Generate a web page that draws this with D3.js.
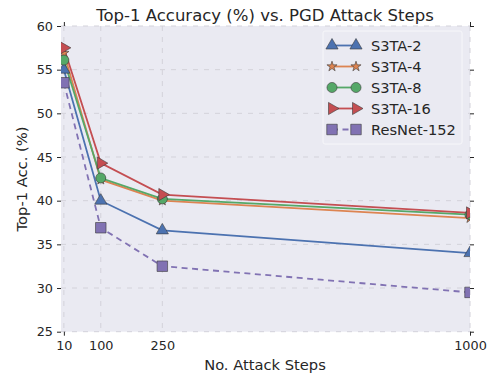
<!DOCTYPE html>
<html><head><meta charset="utf-8">
<script src="https://cdn.jsdelivr.net/npm/d3@7"></script>
<style>body{margin:0;background:#fff}svg{display:block;font-family:"DejaVu Sans",sans-serif}</style>
</head><body>
<svg id="c" width="487" height="373"></svg>
<script>
const steps = [10, 100, 250, 1000];
const xTicks = [10, 100, 250, 1000];
const yTicks = [25, 30, 35, 40, 45, 50, 55, 60];
const seriesNames = ["S3TA-2", "S3TA-4", "S3TA-8", "S3TA-16", "ResNet-152"];
const s3ta2 = [55.0, 40.0, 36.6, 34.0];
const s3ta4 = [56.9, 42.4, 40.0, 38.0];
const s3ta8 = [56.1, 42.6, 40.2, 38.4];
const s3ta16 = [57.5, 44.3, 40.7, 38.6];
const resnet152 = [53.5, 36.9, 32.5, 29.5];
const seriesValues = [s3ta2, s3ta4, s3ta8, s3ta16, resnet152];
const colors = ["#4C72B0", "#DD8452", "#55A868", "#C44E52", "#8172B3"];
const markers = ["tri", "star", "circle", "right", "square"];
const dashed = [false, false, false, false, true];

const svg = d3.select("#c");
const L = 61, R = 470, T = 26, B = 331.7;
const x = d3.scaleLinear().domain([3, 1000]).range([L, R]);
const y = d3.scaleLinear().domain([25, 60]).range([B, T]);

svg.append("rect").attr("x", L).attr("y", T).attr("width", R - L).attr("height", B - T).attr("fill", "#EAEAF2");
svg.append("defs").append("clipPath").attr("id", "clip").append("rect")
  .attr("x", L).attr("y", T).attr("width", R - L).attr("height", B - T);

const grid = svg.append("g").attr("stroke", "#d3d2da").attr("stroke-width", 1).attr("stroke-dasharray", "5,6");
yTicks.forEach(v => grid.append("line").attr("x1", L).attr("x2", R).attr("y1", y(v)).attr("y2", y(v)));
xTicks.forEach(v => grid.append("line").attr("y1", T).attr("y2", B).attr("x1", x(v)).attr("x2", x(v)));

const yAxisL = svg.append("g").attr("transform", `translate(${L},0)`)
  .call(d3.axisLeft(y).tickValues(yTicks).tickSize(4).tickPadding(4));
const yAxisR = svg.append("g").attr("transform", `translate(${R},0)`)
  .call(d3.axisRight(y).tickValues(yTicks).tickSize(4).tickFormat(""));
const xAxisB = svg.append("g").attr("transform", `translate(0,${B})`)
  .call(d3.axisBottom(x).tickValues(xTicks).tickFormat(d3.format("d")).tickSize(4).tickPadding(5));
const xAxisT = svg.append("g").attr("transform", `translate(0,${T})`)
  .call(d3.axisTop(x).tickValues([10, 1000]).tickSize(4).tickFormat(""));
xAxisB.selectAll(".tick line").attr("opacity", d => (d === 10 || d === 1000) ? 1 : 0);
[yAxisL, yAxisR, xAxisB, xAxisT].forEach(g => {
  g.select(".domain").remove();
  g.selectAll(".tick line").attr("stroke", "#262626").attr("stroke-width", 1);
  g.selectAll("text").attr("fill", "#262626").attr("font-size", 12.8).attr("font-family", "DejaVu Sans");
});

function markerPath(type, s) {
  switch (type) {
    case "tri": return `M0,${-s}L${s*0.87},${s*0.5}L${-s*0.87},${s*0.5}Z`;
    case "right": return `M${s},0L${-s*0.5},${-s*0.87}L${-s*0.5},${s*0.87}Z`;
    case "square": { const h = s*0.75; return `M${-h},${-h}H${h}V${h}H${-h}Z`; }
    case "circle": return d3.symbol(d3.symbolCircle, Math.PI * s * s * 0.58)();
    case "star": return d3.symbol(d3.symbolStar, s * s * 0.95)();
  }
}
const msize = [7, 5.8, 6.6, 7, 7];

const plot = svg.append("g").attr("clip-path", "url(#clip)");
const line = d3.line().x((d, i) => x(steps[i])).y(d => y(d));
seriesValues.forEach((vals, k) => {
  plot.append("path").attr("d", line(vals)).attr("fill", "none")
    .attr("stroke", colors[k]).attr("stroke-width", 1.8)
    .attr("stroke-dasharray", dashed[k] ? "6,4.5" : null);
});
seriesValues.forEach((vals, k) => {
  plot.selectAll(null).data(vals).enter().append("path")
    .attr("transform", (d, i) => `translate(${x(steps[i])},${y(d)})`)
    .attr("d", markerPath(markers[k], msize[k]))
    .attr("fill", colors[k]).attr("stroke", "#3a3a3a").attr("stroke-width", 0.6);
});

const lg = svg.append("g");
lg.append("rect").attr("x", 323).attr("y", 31).attr("width", 139).attr("height", 113).attr("rx", 2)
  .attr("fill", "#EAEAF2").attr("stroke", "#f7f7fa").attr("stroke-width", 1);
seriesNames.forEach((n, k) => {
  const yy = 45.5 + k * 21;
  lg.append("line").attr("x1", 332).attr("x2", 356).attr("y1", yy).attr("y2", yy)
    .attr("stroke", colors[k]).attr("stroke-width", 1.8).attr("stroke-dasharray", dashed[k] ? "6,4.5" : null);
  [332, 356].forEach(xx => lg.append("path").attr("transform", `translate(${xx},${yy})`)
    .attr("d", markerPath(markers[k], msize[k])).attr("fill", colors[k]).attr("stroke", "#3a3a3a").attr("stroke-width", 0.6));
  lg.append("text").attr("x", 371).attr("y", yy + 5.5).attr("font-size", 14.6).attr("fill", "#262626").text(n);
});

svg.append("text").attr("x", 265).attr("y", 21).attr("text-anchor", "middle").attr("font-size", 16.5)
  .attr("fill", "#262626").text("Top-1 Accuracy (%) vs. PGD Attack Steps");
svg.append("text").attr("x", 265).attr("y", 370).attr("text-anchor", "middle").attr("font-size", 14.7)
  .attr("fill", "#262626").text("No. Attack Steps");
svg.append("text").attr("transform", "translate(27,179) rotate(-90)").attr("text-anchor", "middle").attr("font-size", 14.7)
  .attr("fill", "#262626").text("Top-1 Acc. (%)");
</script>
</body></html>
